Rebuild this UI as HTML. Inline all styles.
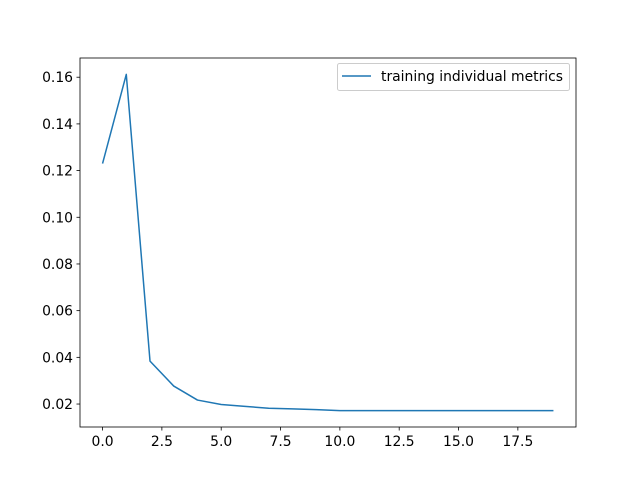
<!DOCTYPE html>
<html><head><meta charset="utf-8"><style>
body{margin:0;background:#fff}
svg{display:block;font-family:"DejaVu Sans","Liberation Sans",sans-serif}
</style></head><body>
<svg id="chart" width="640" height="480">
<rect width="640" height="480" fill="#fff"/>
</svg>
<script>
const xValues=[0,1,2,3,4,5,6,7,8,9,10,11,12,13,14,15,16,17,18,19];
const seriesValues=[0.1230,0.1612,0.0384,0.0277,0.0217,0.0198,0.0190,0.0182,0.0179,0.0176,0.0172,0.0172,0.0172,0.0172,0.0172,0.0172,0.0172,0.0172,0.0172,0.0172];
const xTicks=[0,2.5,5,7.5,10,12.5,15,17.5];
const xTickLabels=["0.0","2.5","5.0","7.5","10.0","12.5","15.0","17.5"];
const yTicks=[0.02,0.04,0.06,0.08,0.10,0.12,0.14,0.16];
const yTickLabels=["0.02","0.04","0.06","0.08","0.10","0.12","0.14","0.16"];
const seriesName="training individual metrics";

const L=80,R=576,T=58,B=427;
const xMin=-0.95,xMax=19.95,yMin=0.01016,yMax=0.16823;
const sx=v=>L+(v-xMin)/(xMax-xMin)*(R-L);
const sy=v=>B-(v-yMin)/(yMax-yMin)*(B-T);
const svg=document.getElementById('chart');
const NS='http://www.w3.org/2000/svg';
function mk(tag,attrs,parent){const e=document.createElementNS(NS,tag);for(const k in attrs)e.setAttribute(k,attrs[k]);(parent||svg).appendChild(e);return e;}

xTicks.forEach((t,i)=>{
  const x=sx(t);
  const g=mk('g',{});
  
  
  mk('line',{x1:x,x2:x,y1:B,y2:B+3.5,stroke:'#000','stroke-width':0.8},g);
  const tx=mk('text',{x:x,y:B+19,'font-size':13.9,'text-anchor':'middle',fill:'#000'},g);
  tx.textContent=xTickLabels[i];
});
yTicks.forEach((t,i)=>{
  const y=sy(t);
  const g=mk('g',{});
  
  
  mk('line',{x1:L-3.5,x2:L,y1:y,y2:y,stroke:'#000','stroke-width':0.8},g);
  const tx=mk('text',{x:L-7,y:y+5,'font-size':13.9,'text-anchor':'end',fill:'#000'},g);
  tx.textContent=yTickLabels[i];
});
const pts=xValues.map((x,i)=>sx(x).toFixed(2)+','+sy(seriesValues[i]).toFixed(2)).join(' ');
const line=mk('polyline',{points:pts,fill:'none',stroke:'#1f77b4','stroke-width':1.5,'stroke-linejoin':'round'});


const frame=mk('rect',{x:L,y:T,width:R-L,height:B-T,fill:'none',stroke:'#000','stroke-width':0.8});


const lg=mk('g',{});


mk('rect',{x:337.5,y:63.5,width:232,height:27,rx:2,fill:'#fff','fill-opacity':0.8,stroke:'#ccc','stroke-width':1},lg);
mk('line',{x1:342,x2:371,y1:76,y2:76,stroke:'#1f77b4','stroke-width':1.5},lg);
const lt=mk('text',{x:381,y:81,'font-size':13.9,fill:'#000'},lg);


lt.textContent=seriesName;
</script>
</body></html>
